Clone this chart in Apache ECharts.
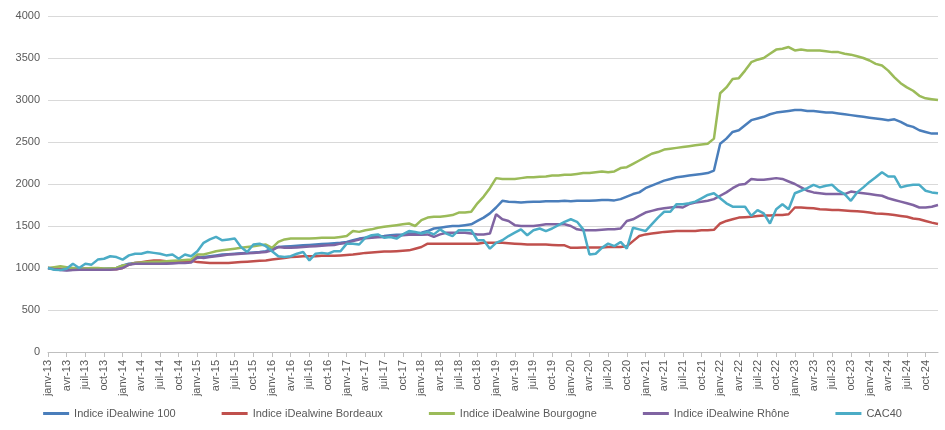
<!DOCTYPE html>
<html><head><meta charset="utf-8">
<script src="https://cdn.jsdelivr.net/npm/echarts@6/dist/echarts.min.js"></script>
<style>html,body{margin:0;padding:0;background:#fff}#c{width:945px;height:430px}</style>
</head><body><div id="c"></div>
<script>
const monthNames = ['janv','févr','mars','avr','mai','juin','juil','août','sept','oct','nov','déc'];
const years = ['13','14','15','16','17','18','19','20','21','22','23','24'];
const categories = [];
years.forEach(y => monthNames.forEach(m => categories.push(m + '-' + y)));

const indice100 = [
1000,990,980,975,980,985,990,990,990,990,995,1000,
1030,1050,1060,1060,1060,1060,1060,1060,1065,1070,1080,1090,
1120,1130,1140,1150,1160,1165,1170,1175,1180,1185,1190,1200,
1230,1250,1255,1260,1265,1270,1275,1280,1285,1290,1295,1300,
1310,1330,1350,1360,1370,1375,1380,1390,1395,1400,1410,1410,
1420,1440,1470,1480,1490,1500,1500,1510,1520,1560,1600,1650,
1720,1800,1790,1785,1780,1785,1790,1790,1795,1795,1795,1800,
1795,1800,1800,1800,1805,1810,1810,1805,1820,1850,1880,1900,
1950,1980,2010,2040,2060,2080,2090,2100,2110,2120,2130,2160,
2480,2540,2620,2640,2700,2760,2780,2800,2830,2850,2860,2870,
2880,2880,2870,2870,2860,2850,2850,2840,2830,2820,2810,2800,
2790,2780,2770,2760,2770,2740,2700,2680,2640,2620,2600,2600];
const bordeaux = [
1000,995,990,985,985,990,990,990,985,985,985,985,
1000,1040,1060,1070,1080,1090,1090,1080,1080,1075,1080,1085,
1070,1065,1060,1060,1060,1060,1065,1070,1075,1080,1085,1090,
1100,1110,1120,1130,1135,1140,1140,1140,1145,1145,1145,1150,
1155,1160,1170,1180,1185,1190,1195,1195,1200,1205,1210,1230,
1250,1290,1290,1290,1290,1290,1290,1290,1290,1290,1300,1300,
1300,1300,1295,1290,1285,1280,1280,1280,1280,1275,1270,1270,
1240,1240,1245,1245,1245,1245,1250,1250,1250,1260,1320,1380,
1400,1410,1420,1430,1435,1440,1440,1440,1440,1450,1450,1455,
1530,1560,1580,1600,1605,1610,1620,1625,1625,1630,1630,1640,
1720,1720,1715,1710,1700,1695,1690,1690,1685,1680,1675,1670,
1660,1650,1645,1640,1630,1620,1610,1590,1580,1560,1540,1525];
const bourgogne = [
1000,1010,1020,1010,1000,990,995,1000,1000,995,995,1000,
1030,1040,1060,1065,1070,1075,1075,1080,1085,1090,1095,1100,
1160,1160,1180,1200,1210,1220,1230,1240,1250,1260,1270,1280,
1240,1310,1340,1350,1350,1350,1350,1355,1360,1360,1360,1370,
1380,1440,1430,1450,1460,1480,1490,1500,1510,1520,1530,1500,
1570,1600,1610,1610,1620,1630,1660,1660,1670,1770,1850,1950,
2070,2060,2060,2060,2070,2080,2080,2085,2090,2100,2100,2110,
2110,2120,2130,2130,2140,2150,2140,2150,2190,2200,2240,2280,
2320,2360,2380,2410,2420,2430,2440,2450,2460,2470,2480,2540,
3080,3150,3250,3260,3350,3450,3480,3500,3550,3600,3610,3630,
3590,3600,3590,3590,3590,3580,3570,3570,3550,3540,3520,3500,
3470,3430,3410,3350,3270,3200,3150,3110,3050,3020,3010,3000];
const rhone = [
1000,985,975,970,975,980,980,980,980,980,980,985,
1000,1040,1050,1050,1050,1050,1050,1050,1055,1060,1060,1065,
1130,1120,1130,1140,1150,1160,1165,1170,1175,1180,1185,1190,
1210,1250,1240,1240,1245,1250,1255,1260,1265,1270,1275,1290,
1300,1320,1340,1355,1360,1365,1370,1375,1380,1390,1395,1400,
1395,1400,1370,1400,1420,1420,1420,1420,1410,1400,1400,1410,
1640,1580,1560,1510,1500,1500,1500,1510,1520,1520,1520,1520,
1500,1460,1450,1450,1450,1455,1460,1460,1470,1560,1580,1620,
1660,1680,1700,1710,1720,1730,1720,1760,1780,1790,1800,1820,
1860,1900,1950,1990,2000,2060,2050,2050,2060,2070,2060,2030,
2000,1960,1920,1900,1890,1880,1880,1880,1880,1910,1900,1890,
1880,1870,1860,1830,1810,1790,1770,1750,1720,1720,1730,1750];
const cac40 = [
1000,980,975,990,1050,1000,1050,1040,1100,1110,1140,1130,
1100,1150,1170,1170,1190,1180,1170,1150,1160,1110,1160,1140,
1200,1300,1340,1370,1330,1340,1350,1250,1190,1280,1290,1260,
1200,1140,1130,1140,1170,1190,1090,1170,1180,1170,1200,1200,
1290,1290,1280,1360,1390,1400,1360,1370,1350,1400,1440,1430,
1410,1430,1400,1460,1410,1380,1450,1450,1450,1330,1330,1230,
1300,1330,1380,1420,1460,1390,1450,1470,1440,1470,1510,1550,
1580,1550,1460,1160,1170,1240,1290,1260,1310,1230,1480,1460,
1440,1520,1600,1670,1670,1760,1760,1770,1790,1830,1870,1890,
1830,1770,1730,1730,1730,1620,1690,1650,1530,1700,1760,1700,
1890,1920,1950,1990,1960,1980,1990,1920,1880,1800,1900,1960,
2025,2080,2140,2090,2090,1960,1980,1990,1990,1920,1900,1890];

const names = ['Indice iDealwine 100','Indice iDealwine Bordeaux','Indice iDealwine Bourgogne','Indice iDealwine Rhône','CAC40'];
const colors = ['#4a7ebb','#c0504d','#9bbb59','#8064a2','#4bacc6'];
const datasets = [indice100, bordeaux, bourgogne, rhone, cac40];

const chart = echarts.init(document.getElementById('c'));
chart.setOption({
  animation: false,
  textStyle: {fontFamily: 'Liberation Sans, Arial, sans-serif'},
  grid: {left: 48, right: 7, top: 16, bottom: 78},
  legend: {
    bottom: 6, left: 'center', itemGap: 46, itemWidth: 26, itemHeight: 3, icon: 'rect',
    textStyle: {color: '#595959', fontSize: 11},
    data: names
  },
  xAxis: {
    type: 'category', data: categories, boundaryGap: false,
    axisLine: {lineStyle: {color: '#bfbfbf'}},
    axisTick: {interval: 2, lineStyle: {color: '#bfbfbf'}},
    axisLabel: {interval: 2, rotate: 90, color: '#595959', fontSize: 11}
  },
  yAxis: {
    type: 'value', min: 0, max: 4000, interval: 500,
    axisLine: {show: false}, axisTick: {show: false},
    axisLabel: {color: '#595959', fontSize: 11, formatter: v => String(v)},
    splitLine: {lineStyle: {color: '#d9d9d9'}}
  },
  series: names.map((n, i) => ({
    name: n, type: 'line', data: datasets[i], showSymbol: false, symbol: 'none',
    lineStyle: {width: 2.5, color: colors[i]}, itemStyle: {color: colors[i]}
  }))
});
</script></body></html>
